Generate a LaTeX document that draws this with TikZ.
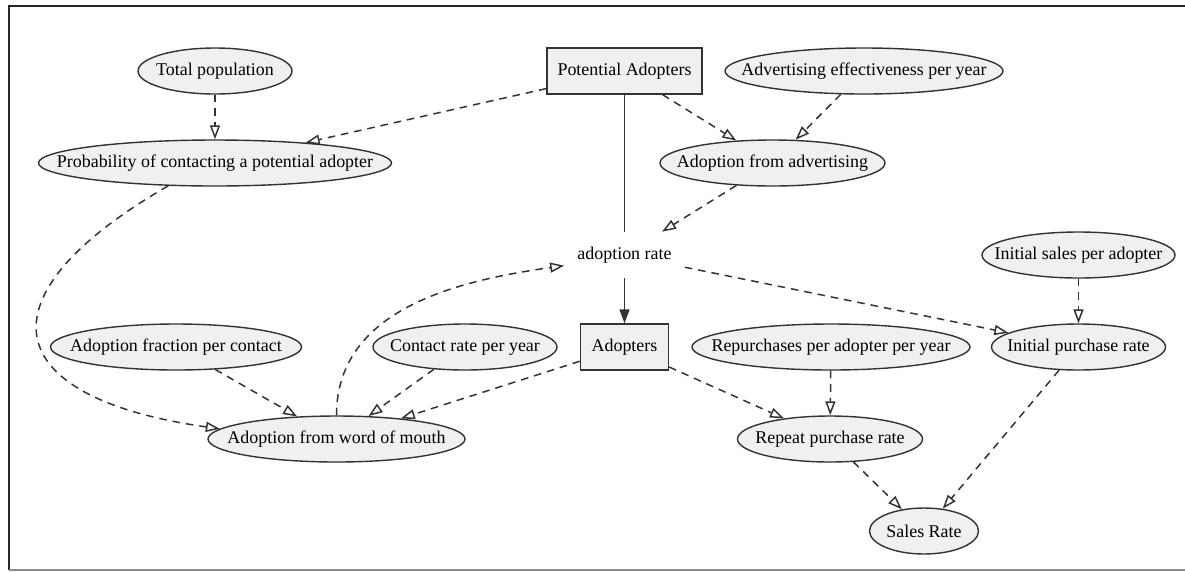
\documentclass[tikz,border=0pt]{standalone}
\usepackage{fontspec}
\setmainfont{Liberation Serif}
\usetikzlibrary{shapes.geometric,arrows.meta}

\begin{document}
\begin{tikzpicture}[
    font=\fontsize{10.2}{12}\selectfont,
    var/.style={ellipse, draw=black!80, fill=black!6, line width=0.8pt, inner xsep=-1.5cm, inner ysep=0pt, minimum height=0.92cm},
    stock/.style={rectangle, draw=black!80, fill=black!6, line width=0.8pt, inner sep=0pt, minimum height=0.92cm},
    link/.style={draw=black!80, line width=0.85pt, dash pattern=on 4.3pt off 3.4pt, -{Triangle[open, length=0.28cm, width=0.2cm]}},
    flow/.style={draw=black!80, line width=0.85pt},
]
    \useasboundingbox (0,0) rectangle (23.70,-11.42);
    \draw[line width=1.1pt, black!85] (23.70,-0.12) -- (0.18,-0.12) -- (0.18,-11.40);
    \draw[line width=0.6pt, black!45] (0.18,-11.40) -- (23.70,-11.40);

    \node[var, minimum width=3.08cm] (totpop) at (4.30,-1.42) {Total population};
    \node[stock, minimum width=3.10cm] (potadopt) at (12.49,-1.42) {Potential Adopters};
    \node[var, minimum width=5.56cm] (adveff) at (17.28,-1.42) {Advertising effectiveness per year};
    \node[var, minimum width=7.06cm] (probcontact) at (4.30,-3.26) {Probability of contacting a potential adopter};
    \node[var, minimum width=4.50cm] (adoptadv) at (15.45,-3.26) {Adoption from advertising};
    \node[minimum width=2.40cm, minimum height=0.92cm, inner sep=0pt] (adoptrate) at (12.49,-5.10) {adoption rate};
    \node[var, minimum width=3.86cm] (initsales) at (21.57,-5.10) {Initial sales per adopter};
    \node[var, minimum width=5.02cm] (adoptfrac) at (3.52,-6.94) {Adoption fraction per contact};
    \node[var, minimum width=3.68cm] (contactrate) at (9.30,-6.94) {Contact rate per year};
    \node[stock, minimum width=1.76cm] (adopters) at (12.49,-6.94) {Adopters};
    \node[var, minimum width=5.56cm] (repurch) at (16.62,-6.94) {Repurchases per adopter per year};
    \node[var, minimum width=3.48cm] (initpurch) at (21.57,-6.94) {Initial purchase rate};
    \node[var, minimum width=5.14cm] (adoptwom) at (6.73,-8.78) {Adoption from word of mouth};
    \node[var, minimum width=3.70cm] (repeatpurch) at (16.60,-8.78) {Repeat purchase rate};
    \node[var, minimum width=2.18cm] (salesrate) at (18.48,-10.62) {Sales Rate};

    \draw[flow] (potadopt) -- (adoptrate);
    \draw[flow, -{Triangle[length=0.28cm, width=0.2cm]}] (adoptrate) -- (adopters);

    \draw[link] (totpop) -- (probcontact);
    \draw[link] (potadopt) -- (probcontact);
    \draw[link] (potadopt) -- (adoptadv);
    \draw[link] (adveff) -- (adoptadv);
    \draw[link] (adoptadv) -- (adoptrate);
    \draw[link] (probcontact.206) to[out=210, in=172, looseness=2.3] (adoptwom.175);
    \draw[link] (adoptfrac) -- (adoptwom);
    \draw[link] (contactrate) -- (adoptwom);
    \draw[link] (adopters) -- (adoptwom);
    \draw[link] (adoptwom.north) to[out=90, in=188] (adoptrate.190);
    \draw[link] (adoptrate) -- (initpurch);
    \draw[link] (initsales) -- (initpurch);
    \draw[link] (adopters) -- (repeatpurch);
    \draw[link] (repurch) -- (repeatpurch);
    \draw[link] (repeatpurch) -- (salesrate);
    \draw[link] (initpurch) -- (salesrate);
\end{tikzpicture}
\end{document}
